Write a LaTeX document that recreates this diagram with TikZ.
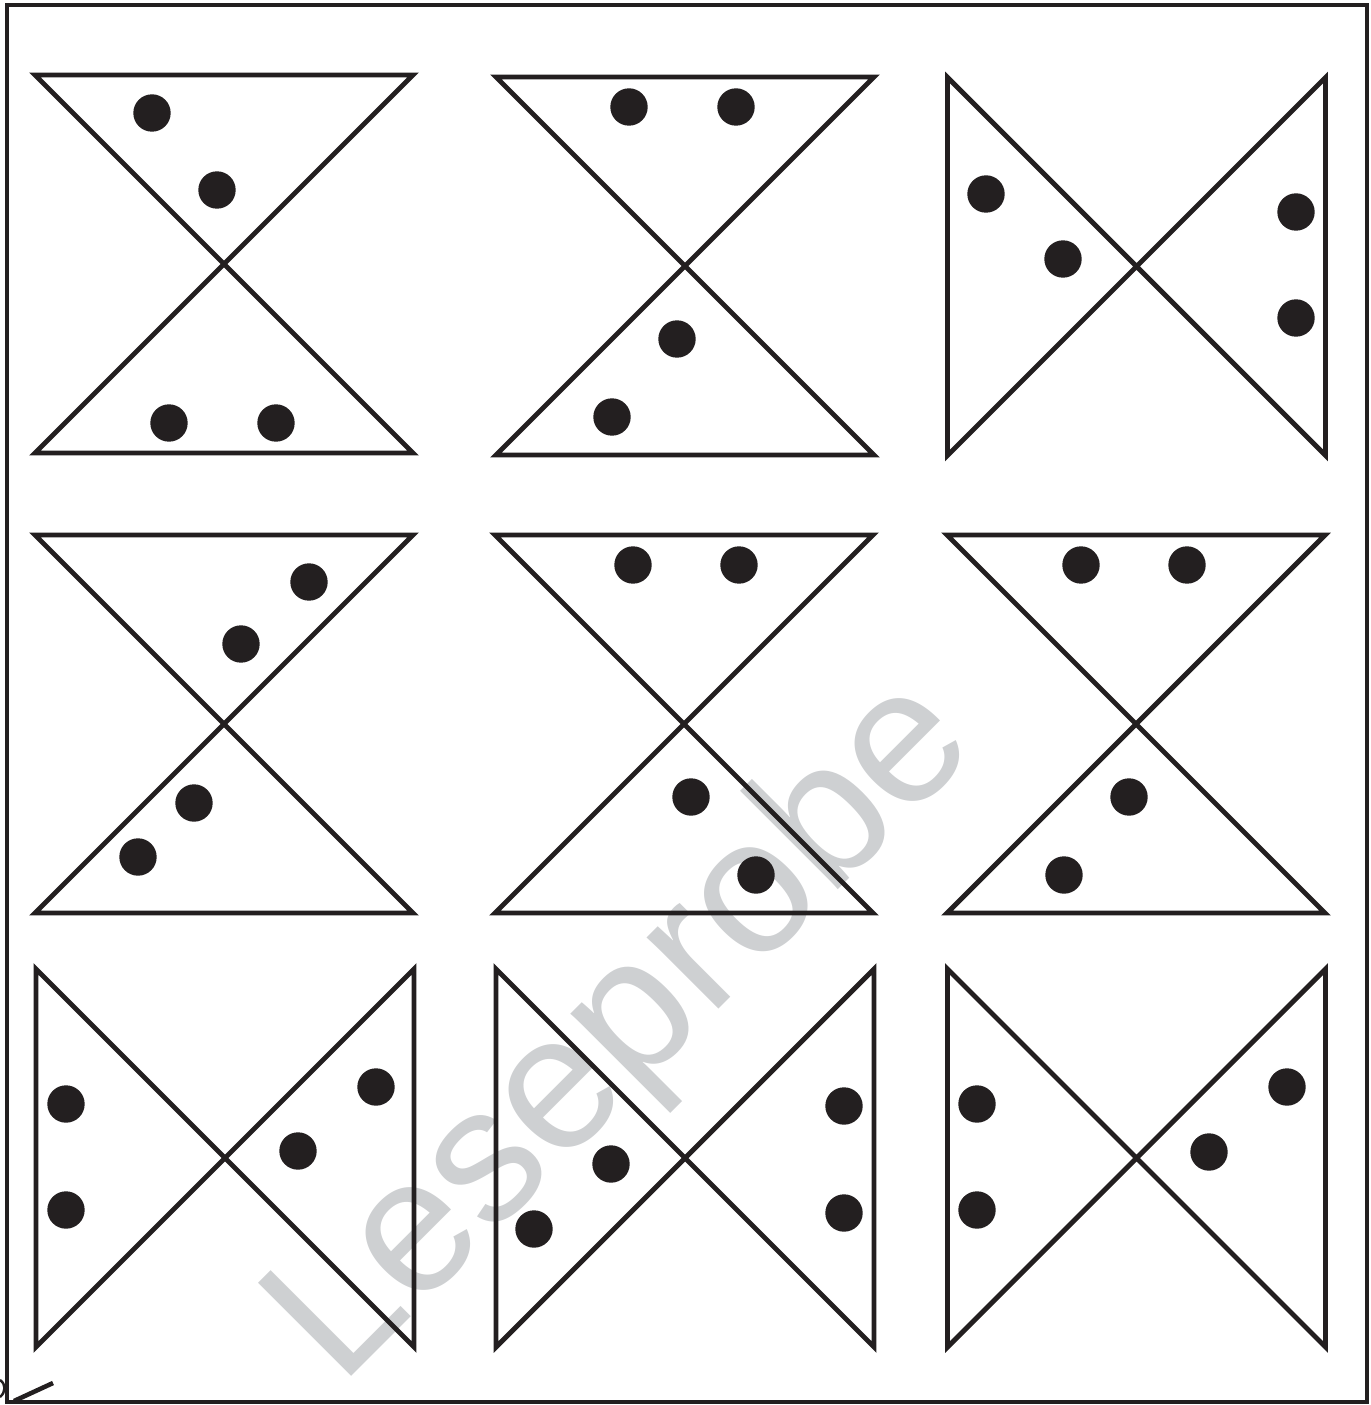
\documentclass[tikz,border=0pt]{standalone}
\usepackage{fontspec}
\setsansfont{Liberation Sans}
\usepackage{tikz}
\definecolor{ink}{RGB}{35,31,32}
\definecolor{wmgray}{RGB}{206,208,210}

\begin{document}
\begin{tikzpicture}[x=0.02cm, y=-0.02cm,
      outline/.style={draw=ink, line width=2.8pt, line join=miter},
      dot/.style={fill=ink}]
    \useasboundingbox (0,0) rectangle (1371,1405);
    \node[wmgray, font=\sffamily\fontsize{109}{109}\selectfont, rotate=45,
          anchor=base west, inner sep=0pt] (wm) at (340,1388) {Leseprobe};
    \draw[outline] (7,5) rectangle (1367,1402);
    \draw[draw=ink, line width=2.6pt] (14,1401) -- (53,1383);
    \draw[draw=ink, line width=1.4pt] (0,1380) .. controls (6,1384) and (6,1392) .. (0,1397);
    % hourglass figures
    \foreach \cx/\cy in {224/264, 685/266, 224/724, 684/724, 1136/724}
      \draw[outline] (\cx-189,\cy-189) -- (\cx+189,\cy-189) -- (\cx-189,\cy+189)
                     -- (\cx+189,\cy+189) -- cycle;
    % bow-tie figures
    \foreach \cx/\cy in {1136.5/266.5, 225/1158, 685/1158, 1136.5/1158}
      \draw[outline] (\cx-189,\cy-189) -- (\cx+189,\cy+189) -- (\cx+189,\cy-189)
                     -- (\cx-189,\cy+189) -- cycle;
    \foreach \px/\py in {152/113, 217/190, 169/423, 276/423,
                         629/107, 736/107, 677/339, 612/417,
                         986/194, 1063/259, 1296/212, 1296/318,
                         309/582, 241/644, 194/803, 138/857,
                         633/565, 739/565, 691/797, 756/875,
                         1081/565, 1187/565, 1129/797, 1064/875,
                         66/1104, 66/1210, 376/1087, 298/1151,
                         611/1164, 534/1229, 844/1106, 844/1213,
                         977/1104, 977/1210, 1287/1087, 1209/1152}
      \fill[dot] (\px,\py) circle[radius=0.374cm];
  \end{tikzpicture}
\end{document}
